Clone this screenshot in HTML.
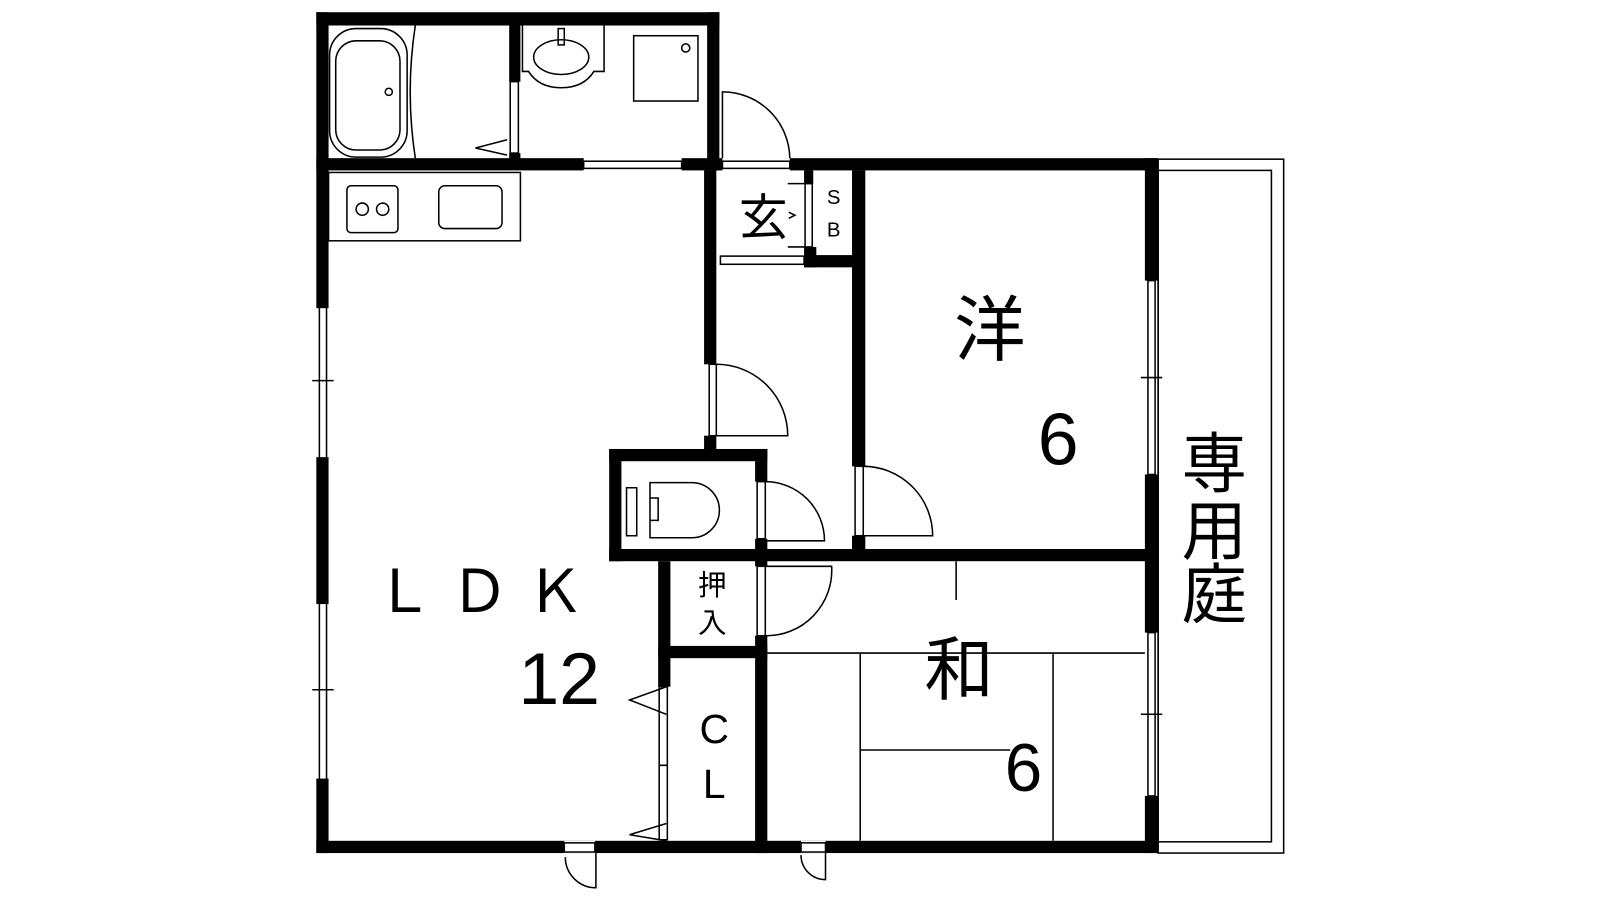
<!DOCTYPE html>
<html><head><meta charset="utf-8"><style>
html,body{margin:0;padding:0;background:#fff;width:1600px;height:900px;overflow:hidden}
svg text{font-family:"Liberation Sans","Noto Sans CJK JP",sans-serif;fill:#000}
</style></head><body>
<svg width="1600" height="900" viewBox="0 0 1600 900" xmlns="http://www.w3.org/2000/svg">
<g transform="scale(1.0204)">
<g fill="none" stroke="#000" stroke-width="1.5">
<rect x="1135" y="156" width="123" height="680"/>
<rect x="1135" y="167" width="111" height="658"/>
<rect x="323" y="28" width="76" height="126" rx="26"/>
<rect x="329" y="40" width="63" height="107" rx="20"/>
<circle cx="381" cy="90" r="3.5"/>
<path d="M407 25 Q397 90 407 155"/>
<path d="M512 25 V70 H518 Q528 86 550 86 Q572 86 582 70 H592 V25"/>
<ellipse cx="550" cy="56" rx="27" ry="17"/>
<rect x="547" y="28" width="6" height="16"/>
<rect x="621" y="35" width="63" height="64"/>
<circle cx="672" cy="47" r="4"/>
<path d="M497 137 L466 145 L497 152"/>
<rect x="500" y="80" width="8" height="70"/>
<rect x="322" y="169" width="188" height="67"/>
<rect x="340" y="182" width="50" height="46" rx="4"/>
<circle cx="355" cy="205" r="6"/><circle cx="375" cy="205" r="6"/>
<rect x="430" y="182" width="62" height="42" rx="6"/>
<rect x="572" y="158" width="96" height="7"/>
<rect x="708" y="158" width="66" height="7"/>
<rect x="706" y="251" width="82" height="8"/>
<rect x="789" y="180" width="7" height="62"/>
<path d="M772 180 H789 M772 242 H789 M773 208 L779 211 L773 214"/>
<rect x="313" y="300" width="7" height="150"/>
<rect x="313" y="590" width="7" height="175"/>
<path d="M306 373 H327 M306 676 H327"/>
<rect x="1125" y="275" width="7" height="190"/>
<rect x="1125" y="620" width="7" height="160"/>
<path d="M1118 370 H1139 M1118 700 H1139"/>
<path d="M708 155 V90 A66 66 0 0 1 774 155"/>
<rect x="695" y="357" width="7" height="70"/>
<path d="M702 357 A70 70 0 0 1 772 427 H702"/>
<rect x="742" y="472" width="8" height="56"/>
<path d="M750 472 A58 58 0 0 1 808 530 H750"/>
<rect x="838" y="457" width="8" height="68"/>
<path d="M846 457 A68 68 0 0 1 914 525 H846"/>
<rect x="742" y="555" width="8" height="68"/>
<path d="M750 555 H815 A64 64 0 0 1 750 623"/>
<rect x="646" y="673" width="8" height="150"/>
<path d="M646 750 H654 M653 673 L617 686 L653 700 M653 807 L617 818 L653 824"/>
<path d="M584 836 V870 A30 30 0 0 1 554 840"/>
<path d="M809 836 V862 A24 24 0 0 1 785 838"/>
<path d="M614 478 H624 V525 H614 Z M637 473 H678 A27 27 0 0 1 705 500 A27 27 0 0 1 678 527 H637 Z M637 488 H645 V510 H637"/>
<path d="M937 550 V588 M752 640 H1122 M843 640 V824 M1032 640 V824 M843 735 H990"/>
</g>
<g fill="#000">
<rect x="310" y="12" width="395" height="13"/>
<rect x="310" y="12" width="12" height="290"/><rect x="310" y="448" width="12" height="144"/><rect x="310" y="763" width="12" height="73"/>
<rect x="693" y="12" width="12" height="155"/>
<rect x="310" y="155" width="262" height="12"/><rect x="668" y="155" width="40" height="12"/>
<rect x="774" y="155" width="361" height="12"/>
<rect x="499" y="25" width="11" height="55"/><rect x="499" y="150" width="11" height="8"/>
<rect x="690" y="167" width="12" height="190"/><rect x="690" y="427" width="12" height="16"/>
<rect x="788" y="167" width="9" height="13"/><rect x="788" y="242" width="12" height="20"/><rect x="788" y="250" width="50" height="12"/>
<rect x="835" y="167" width="13" height="290"/><rect x="835" y="525" width="13" height="20"/>
<rect x="1122" y="155" width="13" height="120"/><rect x="1122" y="465" width="13" height="155"/><rect x="1122" y="780" width="13" height="56"/>
<rect x="597" y="440" width="155" height="12"/><rect x="597" y="440" width="12" height="110"/><rect x="740" y="440" width="12" height="32"/><rect x="740" y="528" width="12" height="27"/>
<rect x="597" y="538" width="538" height="12"/>
<rect x="645" y="550" width="12" height="123"/><rect x="645" y="633" width="107" height="12"/>
<rect x="740" y="623" width="12" height="213"/>
<rect x="310" y="824" width="825" height="12"/>
</g>
<g fill="#fff"><rect x="553" y="824" width="30" height="12"/><rect x="785" y="824" width="24" height="12"/></g>
<g stroke="#000" stroke-width="1.5" fill="none"><rect x="553" y="826" width="30" height="9"/><rect x="785" y="826" width="24" height="9"/></g>
<text x="970" y="348" font-size="70" text-anchor="middle">洋</text>
<text x="1037" y="455" font-size="72" text-anchor="middle">6</text>
<text x="1190" y="477" font-size="64" text-anchor="middle">専</text>
<text x="1190" y="543" font-size="64" text-anchor="middle">用</text>
<text x="1190" y="605" font-size="64" text-anchor="middle">庭</text>
<text x="470" y="600" font-size="58" text-anchor="middle">Ｌ Ｄ Ｋ</text>
<text x="548" y="690" font-size="72" text-anchor="middle">12</text>
<text x="940" y="680" font-size="68" text-anchor="middle">和</text>
<text x="1003" y="775" font-size="66" text-anchor="middle">6</text>
<text x="748" y="230" font-size="48" text-anchor="middle">玄</text>
<text x="817" y="200" font-size="20" text-anchor="middle">S</text>
<text x="817" y="232" font-size="20" text-anchor="middle">B</text>
<text x="698" y="583" font-size="28" text-anchor="middle">押</text>
<text x="698" y="620" font-size="28" text-anchor="middle">入</text>
<text x="700" y="728" font-size="40" text-anchor="middle">C</text>
<text x="700" y="782" font-size="40" text-anchor="middle">L</text>
</g>
</svg>
</body></html>
